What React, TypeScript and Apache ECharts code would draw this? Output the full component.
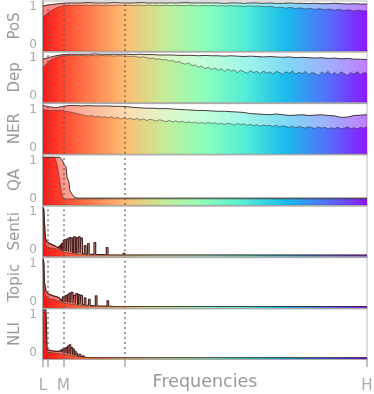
import React, { useEffect, useRef } from 'react';
import * as echarts from 'echarts';

// ---------- data ----------
const panelNames = ['PoS', 'Dep', 'NER', 'QA', 'Senti', 'Topic', 'NLI'];

// frequency position in % of the spectrum (L .. H)
const xTickValues = [0, 1.36, 6.3, 25.3, 100];
const xLabelValues = [0, 6.3, 100];
const xLabelTexts = ['L', 'M', 'H'];
const markerFreqs = [1.36, 6.3, 25.3];

const coarseX = Array.from({ length: 51 }, (_, i) => i * 2);
const fineX = Array.from({ length: 101 }, (_, i) => i);

const posUpper = [1.0, 1.03, 1.05, 1.07, 1.08, 1.08, 1.08, 1.09, 1.08, 1.08,
  1.08, 1.09, 1.08, 1.08, 1.08, 1.09, 1.08, 1.08, 1.08, 1.08,
  1.08, 1.08, 1.09, 1.08, 1.08, 1.08, 1.08, 1.08, 1.07, 1.08,
  1.08, 1.07, 1.08, 1.08, 1.07, 1.08, 1.07, 1.07, 1.08, 1.07,
  1.07, 1.06, 1.07, 1.06, 1.06, 1.07, 1.06, 1.05, 1.06, 1.05, 1.05];
const posLower = [0.71, 0.78, 0.85, 0.9, 0.94, 0.98, 1.0, 1.01, 1.02, 1.01,
  1.02, 1.02, 1.01, 1.02, 1.02, 1.01, 1.02, 1.02, 1.01, 1.02,
  1.02, 1.01, 1.02, 1.02, 1.02, 1.01, 1.02, 1.02, 1.01, 1.02,
  1.02, 1.01, 1.02, 1.02, 1.01, 1.02, 1.01, 1.01, 1.02, 1.01,
  1.01, 1.02, 1.01, 1.01, 1.01, 1.02, 1.01, 1.01, 1.0, 1.01,
  1.01, 1.0, 1.01, 1.01, 1.0, 1.01, 1.0, 1.0, 1.01, 1.0,
  1.0, 1.0, 0.99, 1.0, 1.0, 0.99, 1.0, 0.99, 0.99, 0.98,
  0.99, 0.98, 0.95, 0.97, 0.96, 0.94, 0.96, 0.95, 0.93, 0.95,
  0.94, 0.92, 0.94, 0.93, 0.91, 0.93, 0.92, 0.9, 0.92, 0.91,
  0.89, 0.91, 0.9, 0.88, 0.9, 0.89, 0.87, 0.89, 0.88, 0.87, 0.87];

const depUpper = [0.95, 1.0, 1.04, 1.07, 1.08, 1.08, 1.08, 1.08, 1.09, 1.08,
  1.08, 1.08, 1.08, 1.08, 1.07, 1.08, 1.07, 1.07, 1.06, 1.06,
  1.06, 1.05, 1.05, 1.05, 1.04, 1.05, 1.04, 1.04, 1.03, 1.04,
  1.03, 1.02, 1.03, 1.02, 1.01, 1.02, 1.01, 1.0, 1.01, 0.99,
  1.0, 0.99, 0.98, 0.99, 0.97, 0.98, 0.96, 0.97, 0.95, 0.95, 0.94];
const depLower = [0.72, 0.82, 0.9, 0.96, 0.99, 1.02, 1.04, 1.04, 1.05, 1.04,
  1.05, 1.04, 1.05, 1.04, 1.04, 1.05, 1.04, 1.04, 1.05, 1.04,
  1.04, 1.04, 1.03, 1.04, 1.04, 1.03, 1.03, 1.02, 1.03, 1.01,
  1.0, 1.01, 0.99, 0.97, 0.98, 0.95, 0.96, 0.93, 0.94, 0.9,
  0.92, 0.87, 0.89, 0.84, 0.82, 0.85, 0.78, 0.8, 0.74, 0.77,
  0.7, 0.74, 0.68, 0.72, 0.66, 0.7, 0.63, 0.69, 0.64, 0.67,
  0.6, 0.66, 0.62, 0.58, 0.65, 0.6, 0.63, 0.57, 0.64, 0.59,
  0.62, 0.56, 0.63, 0.6, 0.55, 0.62, 0.58, 0.64, 0.56, 0.61,
  0.57, 0.63, 0.55, 0.6, 0.58, 0.52, 0.61, 0.57, 0.63, 0.55,
  0.6, 0.54, 0.62, 0.57, 0.53, 0.6, 0.56, 0.62, 0.55, 0.6, 0.58];

const nerUpper = [1.08, 1.05, 1.02, 1.06, 1.08, 1.08, 1.07, 1.08, 1.07, 1.07,
  1.07, 1.06, 1.06, 1.05, 1.03, 1.02, 1.01, 1.01, 1.0, 1.0,
  0.99, 0.98, 0.97, 0.96, 0.95, 0.95, 0.94, 0.93, 0.93, 0.92,
  0.91, 0.9, 0.87, 0.86, 0.85, 0.84, 0.86, 0.84, 0.82, 0.83,
  0.84, 0.82, 0.83, 0.84, 0.82, 0.81, 0.77, 0.78, 0.82, 0.83, 0.84];
const nerLower = [0.97, 0.96, 0.95, 0.96, 0.95, 0.95, 0.96, 0.93, 0.92, 0.9,
  0.88, 0.86, 0.84, 0.82, 0.8, 0.82, 0.78, 0.8, 0.77, 0.79,
  0.76, 0.79, 0.75, 0.77, 0.73, 0.76, 0.72, 0.75, 0.71, 0.74,
  0.7, 0.73, 0.69, 0.72, 0.7, 0.67, 0.71, 0.68, 0.66, 0.69,
  0.65, 0.68, 0.64, 0.67, 0.63, 0.66, 0.62, 0.65, 0.61, 0.64,
  0.6, 0.64, 0.61, 0.63, 0.59, 0.62, 0.58, 0.62, 0.6, 0.57,
  0.61, 0.58, 0.6, 0.56, 0.59, 0.55, 0.58, 0.54, 0.57, 0.55,
  0.56, 0.53, 0.57, 0.52, 0.55, 0.53, 0.51, 0.54, 0.5, 0.53,
  0.51, 0.49, 0.53, 0.5, 0.48, 0.52, 0.49, 0.51, 0.47, 0.5,
  0.48, 0.51, 0.47, 0.49, 0.52, 0.48, 0.5, 0.47, 0.51, 0.49, 0.52];

const qaUpperX = [0, 5.2, 5.9, 6.5, 7.1, 7.4, 8.0, 8.3, 9.0, 9.6, 10.5, 100];
const qaUpperY = [1.07, 1.07, 1.0, 0.88, 0.82, 0.55, 0.42, 0.2, 0.1, 0.03, 0.0, 0.0];
const qaLowerX = [0, 3.6, 4.3, 4.9, 5.5, 6.0, 6.5, 100];
const qaLowerY = [1.07, 1.07, 0.9, 0.6, 0.25, 0.05, -0.02, -0.02];

const sentiHeadX = [0, 0.3, 0.5, 0.8, 1.2, 2, 3, 4, 4.8];
const sentiHeadY = [1.1, 1.05, 0.63, 0.29, 0.2, 0.16, 0.12, 0.08, 0.04];
const sentiSpikeX = [5.1, 5.55, 6.0, 6.5, 7.0, 7.6, 8.3, 8.9, 9.7, 10.6, 11.2, 11.9, 13.0, 14.0, 16.0, 19.8, 25.0];
const sentiSpikeTop = [0.08, 0.12, 0.16, 0.24, 0.26, 0.28, 0.31, 0.3, 0.33, 0.31, 0.33, 0.3, 0.1, 0.15, 0.18, 0.05, -0.1];
const sentiSpikeBase = [0.02, 0.0, -0.02, -0.04, -0.05, -0.06, -0.07, -0.08, -0.09, -0.1, -0.1, -0.11, -0.12, -0.12, -0.13, -0.14, -0.15];
const sentiTailX = [26, 100];
const sentiTailY = [-0.15, -0.15];
const sentiLowerX = [0, 0.5, 0.9, 1.5, 4, 5.5, 7, 10, 14, 100];
const sentiLowerY = [1.05, 0.4, 0.1, 0.05, 0.02, -0.03, -0.08, -0.12, -0.15, -0.15];

const topicHeadX = [0, 0.3, 0.45, 0.9, 1.6, 3.2, 4.8, 5.2];
const topicHeadY = [1.1, 1.0, 0.48, 0.27, 0.18, 0.13, 0.09, 0.06];
const topicSpikeX = [5.55, 6.25, 6.8, 7.3, 7.8, 8.3, 9.0, 9.7, 10.4, 11.2, 11.9, 13.0, 14.3, 16.4, 20.0];
const topicSpikeTop = [0.04, 0.1, 0.12, 0.14, 0.16, 0.2, 0.22, 0.14, 0.19, 0.16, 0.14, 0.08, 0.04, 0.13, 0.0];
const topicSpikeBase = [0.0, -0.02, -0.03, -0.04, -0.05, -0.06, -0.07, -0.08, -0.09, -0.1, -0.1, -0.11, -0.12, -0.13, -0.14];
const topicTailX = [22, 100];
const topicTailY = [-0.15, -0.15];
const topicLowerX = [0, 0.4, 0.9, 2, 4, 5.5, 8, 12, 16, 100];
const topicLowerY = [1.05, 0.3, 0.1, 0.05, 0.02, -0.03, -0.08, -0.13, -0.15, -0.15];

const nliHeadX = [0, 0.9, 1.1, 1.25, 1.5, 2.5, 4.0, 4.9];
const nliHeadY = [1.1, 1.1, 0.6, 0.1, 0.06, 0.04, 0.02, 0.02];
const nliSpikeX = [5.25, 5.75, 6.25, 6.8, 7.3, 7.8, 8.3, 8.9, 9.4, 9.9, 10.4, 11.4, 12.4];
const nliSpikeTop = [0.03, 0.06, 0.08, 0.1, 0.12, 0.16, 0.19, 0.12, 0.08, 0.02, -0.03, -0.06, -0.1];
const nliSpikeBase = [0.0, -0.01, -0.02, -0.03, -0.04, -0.05, -0.06, -0.07, -0.08, -0.09, -0.1, -0.12, -0.13];
const nliTailX = [14, 100];
const nliTailY = [-0.15, -0.15];
const nliLowerX = [0, 0.8, 1.0, 1.3, 3, 5, 8, 12, 16, 100];
const nliLowerY = [1.05, 1.05, 0.3, 0.0, -0.02, -0.04, -0.08, -0.13, -0.15, -0.15];

// ---------- helpers ----------
const pairs = (xs: number[], ys: number[]) => xs.map((x, i) => [x, ys[i]]);

function spiky(hx: number[], hy: number[], sx: number[], st: number[], sb: number[], tx: number[], ty: number[]) {
  const hw = 0.26;
  const d: number[][] = pairs(hx, hy);
  sx.forEach((x, i) => {
    d.push([x - hw, sb[i]], [x - hw, st[i]], [x + hw, st[i]], [x + hw, sb[i]]);
  });
  return d.concat(pairs(tx, ty));
}

const rainbowStops = [
  '#ff0000', '#ff6232', '#ffb462', '#bfeb8e', '#80ffb4', '#40ebd4', '#00b4eb', '#4062fa', '#8000ff',
];
const grad = () =>
  new echarts.graphic.LinearGradient(0, 0, 1, 0,
    rainbowStops.map((c, i) => ({ offset: i / (rainbowStops.length - 1), color: c })));

const panels = [
  { upper: pairs(coarseX, posUpper), lower: pairs(fineX, posLower) },
  { upper: pairs(coarseX, depUpper), lower: pairs(fineX, depLower) },
  { upper: pairs(coarseX, nerUpper), lower: pairs(fineX, nerLower) },
  { upper: pairs(qaUpperX, qaUpperY), lower: pairs(qaLowerX, qaLowerY) },
  { upper: spiky(sentiHeadX, sentiHeadY, sentiSpikeX, sentiSpikeTop, sentiSpikeBase, sentiTailX, sentiTailY), lower: pairs(sentiLowerX, sentiLowerY) },
  { upper: spiky(topicHeadX, topicHeadY, topicSpikeX, topicSpikeTop, topicSpikeBase, topicTailX, topicTailY), lower: pairs(topicLowerX, topicLowerY) },
  { upper: spiky(nliHeadX, nliHeadY, nliSpikeX, nliSpikeTop, nliSpikeBase, nliTailX, nliTailY), lower: pairs(nliLowerX, nliLowerY) },
];

const FONT = 'DejaVu Sans';

export default function App() {
  const ref = useRef<HTMLDivElement>(null);
  useEffect(() => {
    if (!ref.current) return;
    const chart = echarts.init(ref.current, undefined, { renderer: 'svg' });
    const n = panelNames.length;
    const grids: any[] = [];
    const xAxes: any[] = [];
    const yAxes: any[] = [];
    const series: any[] = [];
    for (let i = 0; i < n; i++) {
      const last = i === n - 1;
      const spikyPanel = i >= 4;
      grids.push({
        left: 43, right: 7, top: 1 + i * 51.33, height: 50,
        show: true, borderColor: '#bbb', borderWidth: 1, backgroundColor: 'transparent',
        containLabel: false, outerBoundsMode: 'none',
      });
      xAxes.push({
        gridIndex: i, type: 'value', min: 0, max: 100,
        axisLine: { show: true, onZero: false, lineStyle: { color: '#aaa', width: 2 } },
        splitLine: { show: false },
        axisTick: last
          ? { show: true, customValues: xTickValues, length: 8, lineStyle: { color: '#aaa', width: 1.5 } }
          : { show: false },
        axisLabel: last
          ? {
            show: true, customValues: xLabelValues, margin: 19, color: '#aaa', fontSize: 15, fontFamily: FONT,
            formatter: (v: number) => {
              let best = 0;
              xLabelValues.forEach((t, k) => { if (Math.abs(t - v) < Math.abs(xLabelValues[best] - v)) best = k; });
              return xLabelTexts[best];
            },
          }
          : { show: false },
        name: last ? 'Frequencies' : '',
        nameLocation: 'middle', nameGap: 13, nameMoveOverlap: false,
        nameTextStyle: { color: '#999', fontSize: 17.5, fontFamily: FONT },
      });
      yAxes.push({
        gridIndex: i, type: 'value', min: -0.18, max: 1.13,
        axisLine: { show: true, onZero: false, lineStyle: { color: '#aaa', width: 2 } },
        axisTick: { show: false },
        splitLine: { show: false },
        axisLabel: { show: true, customValues: [0, 1], color: '#aaa', fontSize: 12, fontFamily: FONT, margin: 6 },
        name: panelNames[i], nameLocation: 'middle', nameGap: 22, nameMoveOverlap: false,
        nameTextStyle: { color: '#999', fontSize: 15, fontFamily: FONT },
      });
      series.push({
        type: 'line', xAxisIndex: i, yAxisIndex: i, data: panels[i].upper,
        symbol: 'none', showSymbol: false, silent: true, z: 2,
        lineStyle: spikyPanel
          ? { color: 'rgba(50,15,15,0.9)', width: 1.2 }
          : { color: 'rgba(30,15,15,0.8)', width: 1 },
        areaStyle: { color: grad(), opacity: spikyPanel ? 0.6 : 0.5, origin: 'start' },
      });
      series.push({
        type: 'line', xAxisIndex: i, yAxisIndex: i, data: panels[i].lower,
        symbol: 'none', showSymbol: false, silent: true, z: 3,
        lineStyle: { color: 'rgba(40,40,40,0.5)', width: 1 },
        areaStyle: { color: grad(), opacity: 0.8, origin: 'start' },
        markLine: {
          silent: true, symbol: ['none', 'none'], label: { show: false },
          lineStyle: { color: 'rgba(90,90,90,0.6)', width: 2, type: [2, 3] },
          data: markerFreqs.map((f) => ({ xAxis: f })),
        },
      });
    }
    chart.setOption({
      animation: false,
      grid: grids, xAxis: xAxes, yAxis: yAxes, series,
    });
    return () => chart.dispose();
  }, []);
  return <div ref={ref} style={{ position: 'fixed', left: 0, top: 0, width: 374, height: 394 }} />;
}
